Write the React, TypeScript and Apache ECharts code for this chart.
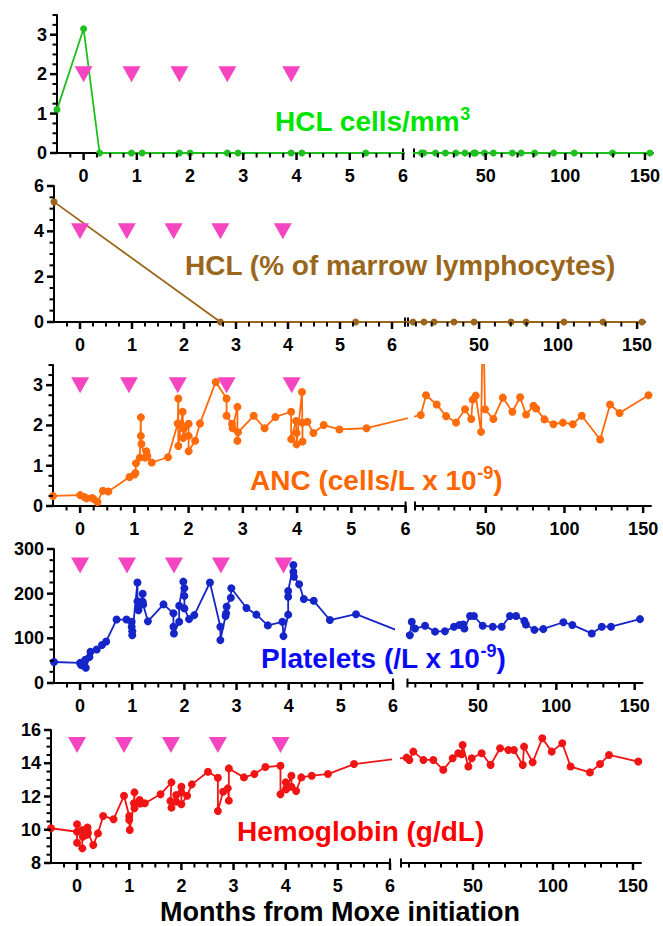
import React, { useEffect, useRef } from "react";
import * as echarts from "echarts";

type Pt = [number, number];

const FONT = '"Liberation Sans", Arial, Helvetica, sans-serif';

// ---- axis tick labels ----
const earlyMonthTicks = [0, 1, 2, 3, 4, 5, 6];
const lateMonthTicks = [50, 100, 150];
const hclCellsTicks = [0, 1, 2, 3];
const hclMarrowTicks = [0, 2, 4, 6];
const ancTicks = [0, 1, 2, 3];
const plateletTicks = [0, 100, 200, 300];
const hemoglobinTicks = [8, 10, 12, 14, 16];

// ---- treatment cycles (months) and marker level per panel ----
const cycleMonths = [0, 0.9, 1.8, 2.7, 3.9];
const cycleMarkerLevel = [2, 4, 3, 263, 15.1];

// ---- series: [month, value] ----
const hclCells: Pt[] = [
  [-0.5, 1.1], [0, 3.15], [0.3, 0], [0.9, 0], [1.1, 0], [1.8, 0], [2.0, 0], [2.7, 0], [2.9, 0],
  [3.9, 0], [4.1, 0], [5.3, 0],
  [9.7, 0], [11.1, 0], [18.5, 0], [24.7, 0], [31.2, 0], [37.0, 0], [42.5, 0], [43.5, 0], [49.3, 0],
  [54.8, 0], [66.7, 0], [72.2, 0], [80.8, 0], [92.7, 0], [105.6, 0], [129.6, 0], [153.1, 0],
];

const hclMarrow: Pt[] = [
  [-0.5, 5.3], [2.7, 0], [5.3, 0],
  [8.2, 0], [15.1, 0], [21.5, 0], [34.1, 0], [46.8, 0], [70.2, 0], [79.7, 0], [103.7, 0], [128.4, 0], [153.1, 0],
];

const anc: Pt[] = [
  [-0.5, 0.25], [0, 0.27], [0.08, 0.22], [0.12, 0.19], [0.22, 0.2], [0.25, 0.17], [0.32, 0.1],
  [0.42, 0.38], [0.52, 0.36], [0.91, 0.72], [1.0, 0.78], [1.02, 0.82], [1.03, 1.06], [1.1, 1.2],
  [1.12, 2.2], [1.12, 1.74], [1.13, 1.54], [1.2, 1.2], [1.22, 1.36], [1.24, 1.24], [1.32, 1.08],
  [1.62, 1.21], [1.8, 2.05], [1.81, 2.67], [1.81, 1.49], [1.86, 2.03], [1.89, 2.34], [1.9, 1.93],
  [1.9, 1.69], [2.0, 2.04], [2.0, 1.74], [2.0, 1.36], [2.12, 1.62], [2.21, 2.05], [2.5, 3.08],
  [2.7, 2.67], [2.7, 2.24], [2.8, 2.04], [2.81, 1.93], [2.9, 2.46], [2.9, 1.62], [2.91, 1.83],
  [3.2, 2.24], [3.4, 1.93], [3.6, 2.21], [3.89, 2.34], [3.89, 1.66], [3.98, 2.11], [3.99, 1.81],
  [3.99, 1.53], [4.09, 2.83], [4.1, 1.6], [4.1, 2.07], [4.19, 2.09], [4.3, 1.81], [4.49, 2.01],
  [4.78, 1.9], [5.28, 1.93],
  [8.7, 2.26], [12.0, 2.75], [18.8, 2.52], [24.8, 2.23], [31.1, 2.07], [36.8, 2.4], [40.7, 2.16],
  [41.7, 2.64], [43.6, 2.74], [47.0, 1.84], [48.2, 5.0], [49.5, 2.4], [54.8, 2.16], [60.8, 2.69],
  [66.9, 2.34], [71.8, 2.7], [75.6, 2.27], [80.3, 2.49], [82.0, 2.42], [87.3, 2.15], [93.0, 2.03],
  [99.0, 2.07], [105.3, 2.03], [111.0, 2.24], [122.7, 1.65], [129.0, 2.52], [135.0, 2.31], [153.4, 2.75],
];

const platelets: Pt[] = [
  [-0.5, 47], [0, 45], [0.02, 40], [0.1, 52], [0.11, 34], [0.18, 58], [0.2, 70], [0.32, 75],
  [0.42, 85], [0.5, 93], [0.7, 142], [0.89, 142], [0.99, 137], [0.99, 126], [1.0, 116], [1.0, 107],
  [1.1, 225], [1.1, 183], [1.11, 167], [1.12, 163], [1.2, 200], [1.2, 182], [1.21, 176], [1.3, 138],
  [1.6, 176], [1.79, 156], [1.79, 126], [1.8, 111], [1.9, 137], [1.9, 173], [1.98, 227], [2.0, 212],
  [2.0, 195], [2.0, 167], [2.09, 143], [2.19, 152], [2.49, 225], [2.69, 126], [2.69, 96], [2.79, 150],
  [2.8, 156], [2.81, 171], [2.89, 191], [2.9, 212], [3.19, 168], [3.38, 153], [3.6, 129], [3.88, 137],
  [3.9, 105], [3.99, 153], [3.99, 193], [3.99, 206], [4.09, 264], [4.09, 249], [4.1, 238], [4.2, 221],
  [4.29, 188], [4.48, 184], [4.79, 141], [5.29, 154],
  [6.5, 107], [7.7, 137], [9.8, 122], [16.2, 128], [22.6, 115], [28.9, 116], [34.7, 126], [38.1, 130],
  [40.6, 131], [41.3, 122], [44.9, 150], [47.4, 150], [53.0, 128], [59.4, 126], [65.1, 126], [70.4, 150],
  [74.3, 150], [79.6, 139], [80.6, 131], [86.0, 119], [91.7, 121], [104.5, 136], [110.2, 130],
  [122.6, 111], [129.0, 126], [134.9, 126], [153.4, 143],
];

const hemoglobin: Pt[] = [
  [-0.5, 10.09], [0, 9.88], [0, 10.33], [0, 9.22], [0.1, 8.88], [0.1, 9.98], [0.11, 9.58], [0.19, 9.7],
  [0.2, 10.13], [0.21, 9.82], [0.31, 9.08], [0.4, 9.78], [0.5, 10.83], [0.7, 10.63], [0.9, 12.05],
  [1.0, 10.83], [1.0, 10.59], [1.01, 9.98], [1.09, 11.59], [1.1, 12.25], [1.1, 11.29], [1.2, 11.79],
  [1.21, 11.57], [1.3, 11.59], [1.6, 12.13], [1.81, 12.85], [1.79, 11.73], [1.81, 11.33], [1.9, 12.09],
  [1.9, 11.69], [2.0, 12.59], [2.0, 12.25], [2.0, 11.53], [2.11, 12.05], [2.2, 12.73], [2.51, 13.49],
  [2.7, 13.13], [2.7, 11.13], [2.8, 12.29], [2.89, 12.49], [2.91, 11.75], [2.91, 13.69], [3.2, 13.15],
  [3.4, 13.35], [3.61, 13.77], [3.9, 13.85], [3.9, 12.13], [4.0, 12.85], [4.01, 12.43], [4.11, 13.25],
  [4.11, 12.59], [4.2, 12.33], [4.3, 13.15], [4.5, 13.25], [4.81, 13.35], [5.31, 13.95],
  [8.5, 14.34], [10.2, 14.2], [12.7, 14.7], [19.0, 14.2], [25.2, 14.2], [31.4, 13.6], [37.3, 14.3],
  [40.8, 14.6], [42.9, 14.54], [43.5, 15.1], [47.1, 13.8], [49.2, 14.3], [55.4, 14.6], [61.0, 13.9],
  [66.9, 14.9], [72.1, 14.8], [75.6, 14.8], [81.1, 13.9], [81.9, 15.0], [87.3, 14.06], [93.3, 15.5],
  [99.2, 14.7], [105.8, 15.2], [111.0, 13.8], [123.1, 13.45], [129.4, 13.95], [135.0, 14.5], [153.3, 14.1],
];

// ---- layout / style (not data) ----
const LEFT_MIN = -0.5;
const RIGHT_MIN = 5;
const RIGHT_MAX = 155;
const BREAK_AT = 6;
const EARLY_MINOR = 0.25;
const LATE_MINOR = 10;

interface Panel {
  data: Pt[];
  ticks: number[];
  yMin: number;
  yMax: number;
  minorStep: number;
  marker: number;
  lineColor: string;
  textColor: string;
  label: string;
  top: number;
  height: number;
  lx: number;
  lw: number;
  lmax: number;
  rx: number;
  rw: number;
  tx: number;
  ty: number;
  dot: number;
}

const panels: Panel[] = [
  {
    data: hclCells, ticks: hclCellsTicks, yMin: 0, yMax: 3.5, minorStep: 0.25, marker: cycleMarkerLevel[0],
    lineColor: "#1fbf1f", textColor: "#00e400", label: "{m|HCL cells/mm}{s|3}",
    top: 15, height: 138, lx: 57, lw: 346, lmax: 6, rx: 414, rw: 244, tx: 275, ty: 120, dot: 7,
  },
  {
    data: hclMarrow, ticks: hclMarrowTicks, yMin: 0, yMax: 6, minorStep: 0.5, marker: cycleMarkerLevel[1],
    lineColor: "#9a661c", textColor: "#9a661c", label: "{m|HCL (% of marrow lymphocytes)}",
    top: 186, height: 136, lx: 54, lw: 351, lmax: 6.25, rx: 408, rw: 237, tx: 185, ty: 264, dot: 7,
  },
  {
    data: anc, ticks: ancTicks, yMin: 0, yMax: 3.5, minorStep: 0.25, marker: cycleMarkerLevel[2],
    lineColor: "#ff6a0a", textColor: "#ff6600", label: "{m|ANC (cells/L x 10}{s|-9}{m|)}",
    top: 365, height: 141, lx: 53, lw: 352.6, lmax: 6, rx: 415, rw: 236, tx: 250, ty: 479, dot: 8,
  },
  {
    data: platelets, ticks: plateletTicks, yMin: 0, yMax: 300, minorStep: 25, marker: cycleMarkerLevel[3],
    lineColor: "#1525c8", textColor: "#0a0af5", label: "{m|Platelets (/L x 10}{s|-9}{m|)}",
    top: 549, height: 134, lx: 54, lw: 339, lmax: 6, rx: 407.5, rw: 235, tx: 261, ty: 657, dot: 8,
  },
  {
    data: hemoglobin, ticks: hemoglobinTicks, yMin: 8, yMax: 16, minorStep: 0.5, marker: cycleMarkerLevel[4],
    lineColor: "#f01414", textColor: "#ff0000", label: "{m|Hemoglobin (g/dL)}",
    top: 730, height: 133, lx: 51, lw: 339, lmax: 6, rx: 401, rw: 240, tx: 237, ty: 830, dot: 8,
  },
];

function steps(from: number, to: number, step: number, skip: number[] = []): number[] {
  const out: number[] = [];
  const n = Math.round((to - from) / step);
  for (let i = 0; i <= n; i++) {
    const v = +(from + i * step).toFixed(6);
    if (!skip.some((s) => Math.abs(s - v) < 1e-9)) out.push(v);
  }
  return out;
}

const labelStyle = {
  show: true,
  color: "#000",
  fontFamily: FONT,
  fontWeight: "bold" as const,
  fontSize: 18,
};
const AXIS_LINE = { color: "#000", width: 2 };
const MAJOR_LEN = 7;
const MINOR_LEN = 4.5;
const MAJOR_W = 2.5;
const MINOR_W = 2;

interface TickSet {
  xAxisIndex: number;
  yAxisIndex: number;
  pts: Pt[];
  dir: "down" | "left";
  len: number;
  width: number;
}

function buildOption(tickSets: TickSet[]) {
  const grid: any[] = [];
  const xAxis: any[] = [];
  const yAxis: any[] = [];
  const series: any[] = [];
  const graphic: any[] = [];

  panels.forEach((p, i) => {
    const pxL = (m: number) => p.lx + ((m - LEFT_MIN) / (p.lmax - LEFT_MIN)) * p.lw;
    const pxR = (m: number) => p.rx + ((m - RIGHT_MIN) / (RIGHT_MAX - RIGHT_MIN)) * p.rw;
    const toL = (px: number) => LEFT_MIN + ((px - p.lx) / p.lw) * (p.lmax - LEFT_MIN);
    const toR = (px: number) => RIGHT_MIN + ((px - p.rx) / p.rw) * (RIGHT_MAX - RIGHT_MIN);

    const gL = i * 2;
    const gR = i * 2 + 1;
    grid.push({ left: p.lx, top: p.top, width: p.lw, height: p.height });
    grid.push({ left: p.rx, top: p.top, width: p.rw, height: p.height });

    const xL = xAxis.length;
    xAxis.push({
      type: "value", gridIndex: gL, min: LEFT_MIN, max: p.lmax, position: "bottom",
      splitLine: { show: false },
      axisLine: { show: true, onZero: false, lineStyle: AXIS_LINE, symbol: ["none", "rect"], symbolSize: [9, 2] },
      axisTick: { show: false },
      axisLabel: { ...labelStyle, margin: 14, customValues: earlyMonthTicks },
    });
    const xR = xAxis.length;
    xAxis.push({
      type: "value", gridIndex: gR, min: RIGHT_MIN, max: RIGHT_MAX, position: "bottom",
      splitLine: { show: false },
      axisLine: { show: true, onZero: false, lineStyle: AXIS_LINE, symbol: ["rect", "none"], symbolSize: [9, 2] },
      axisTick: { show: false },
      axisLabel: { ...labelStyle, margin: 14, customValues: lateMonthTicks },
    });
    const yL = yAxis.length;
    yAxis.push({
      type: "value", gridIndex: gL, min: p.yMin, max: p.yMax, position: "left",
      splitLine: { show: false },
      axisLine: { show: true, onZero: false, lineStyle: AXIS_LINE },
      axisTick: { show: false },
      axisLabel: { ...labelStyle, margin: 10, customValues: p.ticks },
    });
    const yR = yAxis.length;
    yAxis.push({ type: "value", gridIndex: gR, min: p.yMin, max: p.yMax, show: false, splitLine: { show: false } });

    // split data at the axis break, bridging the line straight across the gap
    const leftPts = p.data.filter((d) => d[0] <= BREAK_AT);
    const rightPts = p.data.filter((d) => d[0] > BREAK_AT);
    const leftData: any[] = leftPts.map((d) => ({ value: d }));
    const rightData: any[] = rightPts.map((d) => ({ value: d }));
    if (leftPts.length && rightPts.length) {
      const a = leftPts[leftPts.length - 1];
      const b = rightPts[0];
      leftData.push({ value: [toL(pxR(b[0])), b[1]], symbolSize: 0 });
      rightData.unshift({ value: [toR(pxL(a[0])), a[1]], symbolSize: 0 });
    }

    const lineBase = {
      type: "line",
      symbol: "circle",
      symbolSize: p.dot,
      showSymbol: true,
      clip: true,
      silent: true,
      lineStyle: { color: p.lineColor, width: 1.8 },
      itemStyle: { color: p.lineColor, opacity: 1 },
      z: 3,
    };
    series.push({ ...lineBase, xAxisIndex: xL, yAxisIndex: yL, data: leftData });
    series.push({ ...lineBase, xAxisIndex: xR, yAxisIndex: yR, data: rightData });

    series.push({
      type: "scatter",
      xAxisIndex: xL,
      yAxisIndex: yL,
      symbol: "triangle",
      symbolRotate: 180,
      symbolSize: [18, 16],
      itemStyle: { color: "#f545c0", opacity: 1 },
      silent: true,
      clip: false,
      z: 4,
      data: cycleMonths.map((m) => [m, p.marker]),
    });

    const xMinorL = steps(LEFT_MIN + EARLY_MINOR, p.lmax, EARLY_MINOR, earlyMonthTicks);
    const yMinorL = steps(p.yMin, p.yMax, p.minorStep, p.ticks);
    const xMinorR = steps(LATE_MINOR, lateMonthTicks[lateMonthTicks.length - 1], LATE_MINOR, lateMonthTicks);
    tickSets.push({ xAxisIndex: xL, yAxisIndex: yL, pts: earlyMonthTicks.map((m) => [m, p.yMin] as Pt), dir: "down", len: MAJOR_LEN, width: MAJOR_W });
    tickSets.push({ xAxisIndex: xL, yAxisIndex: yL, pts: xMinorL.map((m) => [m, p.yMin] as Pt), dir: "down", len: MINOR_LEN, width: MINOR_W });
    tickSets.push({ xAxisIndex: xL, yAxisIndex: yL, pts: p.ticks.map((v) => [LEFT_MIN, v] as Pt), dir: "left", len: MAJOR_LEN, width: MAJOR_W });
    tickSets.push({ xAxisIndex: xL, yAxisIndex: yL, pts: yMinorL.map((v) => [LEFT_MIN, v] as Pt), dir: "left", len: MINOR_LEN, width: MINOR_W });
    tickSets.push({ xAxisIndex: xR, yAxisIndex: yR, pts: lateMonthTicks.map((m) => [m, p.yMin] as Pt), dir: "down", len: MAJOR_LEN, width: MAJOR_W });
    tickSets.push({ xAxisIndex: xR, yAxisIndex: yR, pts: xMinorR.map((m) => [m, p.yMin] as Pt), dir: "down", len: MINOR_LEN, width: MINOR_W });

    graphic.push({
      type: "text",
      x: p.tx,
      y: p.ty,
      z: 10,
      style: {
        text: p.label,
        fill: p.textColor,
        font: `bold 28px ${FONT}`,
        align: "left",
        verticalAlign: "middle",
        rich: {
          m: { fontSize: 28, fontWeight: "bold", fontFamily: FONT, fill: p.textColor, lineHeight: 30, verticalAlign: "bottom" },
          s: { fontSize: 18, fontWeight: "bold", fontFamily: FONT, fill: p.textColor, lineHeight: 18, verticalAlign: "top" },
        },
      },
    });
  });

  graphic.push({
    type: "text",
    x: 340,
    y: 912,
    style: {
      text: "Months from Moxe initiation",
      fill: "#000",
      font: `bold 27px ${FONT}`,
      lineHeight: 27,
      align: "center",
      verticalAlign: "middle",
    },
  });

  return {
    animation: false,
    backgroundColor: "#fff",
    grid,
    xAxis,
    yAxis,
    series,
    graphic,
  };
}

export default function App() {
  const ref = useRef<HTMLDivElement>(null);
  useEffect(() => {
    if (!ref.current) return;
    const chart = echarts.init(ref.current, undefined, { renderer: "svg" });
    const tickSets: TickSet[] = [];
    const option = buildOption(tickSets);
    chart.setOption(option as any);

    // tick marks as filled rectangles; positions from the axes' scales via convertToPixel
    const tickEls: any[] = [];
    tickSets.forEach((ts) => {
      ts.pts.forEach((pt) => {
        const c = chart.convertToPixel({ xAxisIndex: ts.xAxisIndex, yAxisIndex: ts.yAxisIndex } as any, pt) as any;
        if (!c || !isFinite(c[0]) || !isFinite(c[1])) return;
        const w = ts.width;
        const shape =
          ts.dir === "down"
            ? { x: c[0] - w / 2, y: c[1], width: w, height: ts.len }
            : { x: c[0] - ts.len, y: c[1] - w / 2, width: ts.len, height: w };
        tickEls.push({ type: "rect", silent: true, z: 20, shape, style: { fill: "#000" } });
      });
    });
    chart.setOption({ graphic: [...option.graphic, ...tickEls] } as any);
    return () => chart.dispose();
  }, []);
  return (
    <div
      ref={ref}
      style={{ position: "fixed", left: 0, top: 0, width: 663, height: 926, background: "#fff" }}
    />
  );
}
